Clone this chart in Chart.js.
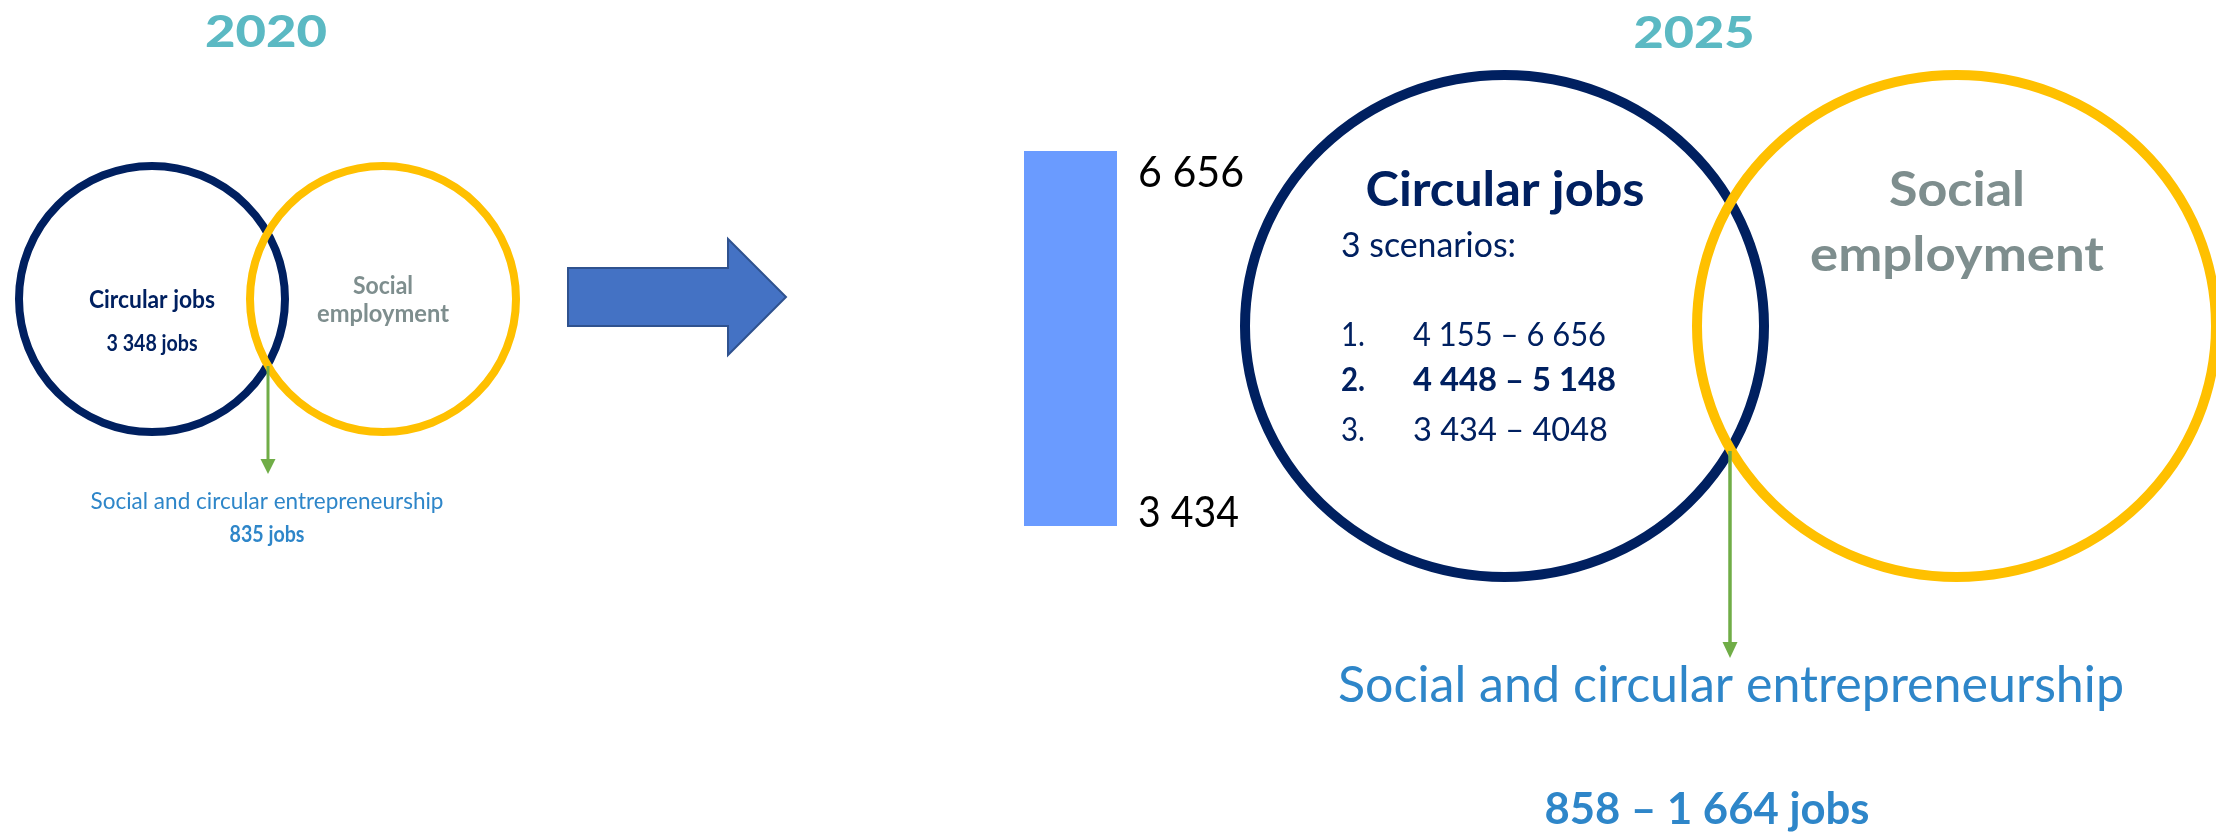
<!DOCTYPE html>
<html>
<head>
<meta charset="utf-8">
<style>
  html, body { margin: 0; padding: 0; background: #ffffff; }
  #wrap { position: relative; width: 2216px; height: 835px; }
</style>
<script src="https://cdn.jsdelivr.net/npm/chart.js@4.4.1/dist/chart.umd.min.js"></script>
</head>
<body>
<div id="wrap"><canvas id="c"></canvas></div>
<script>
// ---- data ----
const years = ['2020', '2025'];
const circularJobs2020 = [3348];
const entrepreneurship2020 = [835];
const rangeCategories = ['2025'];
const rangeLow = [3434];
const rangeHigh = [6656];
const scenarioNumbers = ['1.', '2.', '3.'];
const scenarioLabels = ['4 155 – 6 656', '4 448 – 5 148', '3 434 – 4048'];
const entrepreneurship2025 = [858, 1664];
const labelsText = {
  circular: 'Circular jobs',
  social: 'Social',
  employment: 'employment',
  entre: 'Social and circular entrepreneurship',
  scenarios: '3 scenarios:',
  jobs: 'jobs'
};

function fmt(n) { return String(n).replace(/\B(?=(\d{3})+(?!\d))/g, ' '); }

const NAVY = '#002060', YELLOW = '#FFC000', TEAL = '#5BB9C3', GRAY = '#7E8E8E',
      BLUE = '#2E86C9', GREEN = '#70AD47', BAR = '#6A9BFF';
const FONT = 'Lato, "Noto Sans", sans-serif';

function txt(ctx, s, x, y, size, weight, color, targetW, align) {
  ctx.save();
  ctx.font = weight + ' ' + size + 'px ' + FONT;
  ctx.fillStyle = color;
  ctx.textAlign = align || 'center';
  ctx.textBaseline = 'alphabetic';
  const w = ctx.measureText(s).width;
  const sx = targetW ? targetW / w : 1;
  ctx.translate(x, y);
  ctx.scale(sx, 1);
  ctx.fillText(s, 0, 0);
  ctx.restore();
}

function ellipse(ctx, cx, cy, rx, ry, color, lw) {
  ctx.save();
  ctx.beginPath();
  ctx.ellipse(cx, cy, rx, ry, 0, 0, Math.PI * 2);
  ctx.strokeStyle = color;
  ctx.lineWidth = lw;
  ctx.stroke();
  ctx.restore();
}

function greenArrow(ctx, x, y0, y1, lw, hw, hh) {
  ctx.save();
  ctx.strokeStyle = GREEN;
  ctx.fillStyle = GREEN;
  ctx.lineWidth = lw;
  ctx.beginPath();
  ctx.moveTo(x, y0);
  ctx.lineTo(x, y1 - hh + 1);
  ctx.stroke();
  ctx.beginPath();
  ctx.moveTo(x - hw / 2, y1 - hh);
  ctx.lineTo(x + hw / 2, y1 - hh);
  ctx.lineTo(x, y1);
  ctx.closePath();
  ctx.fill();
  ctx.restore();
}

const decor = {
  id: 'decor',
  afterDraw(chart) {
    const ctx = chart.ctx;
    const ys = chart.scales.y;
    const xs = chart.scales.x;

    // ---- 2020 ----
    txt(ctx, years[0], 266, 47, 44, '900', TEAL, 122);
    ellipse(ctx, 152, 299, 133, 133, NAVY, 8);
    ellipse(ctx, 383, 299, 133, 133, YELLOW, 8);
    txt(ctx, labelsText.circular, 152, 308, 24, 'bold', NAVY, 126);
    txt(ctx, fmt(circularJobs2020[0]) + ' ' + labelsText.jobs, 152, 351, 22, 'bold', NAVY, 91);
    txt(ctx, labelsText.social, 383, 294, 24, 'bold', GRAY, 60);
    txt(ctx, labelsText.employment, 383, 322, 24, 'bold', GRAY, 132);
    greenArrow(ctx, 268, 366, 474, 3, 15, 15);
    txt(ctx, labelsText.entre, 267, 509, 23, 'normal', BLUE, 353);
    txt(ctx, fmt(entrepreneurship2020[0]) + ' ' + labelsText.jobs, 267, 542, 22, 'bold', BLUE, 75);

    // ---- block arrow ----
    ctx.save();
    ctx.beginPath();
    ctx.moveTo(568, 268); ctx.lineTo(728, 268); ctx.lineTo(728, 239);
    ctx.lineTo(786, 297); ctx.lineTo(728, 355); ctx.lineTo(728, 326);
    ctx.lineTo(568, 326); ctx.closePath();
    ctx.fillStyle = '#4472C4';
    ctx.fill();
    ctx.strokeStyle = '#2F528F';
    ctx.lineWidth = 2;
    ctx.stroke();
    ctx.restore();

    // ---- range labels next to bar ----
    const barRight = xs.right;
    txt(ctx, fmt(rangeHigh[0]), barRight + 21, ys.getPixelForValue(rangeHigh[0]) + 36, 42, 'normal', '#000000', 106, 'left');
    txt(ctx, fmt(rangeLow[0]), barRight + 21, ys.getPixelForValue(rangeLow[0]) + 1, 42, 'normal', '#000000', 101, 'left');

    // ---- 2025 ----
    txt(ctx, years[1], 1694, 48, 44, '900', TEAL, 121);
    ellipse(ctx, 1504.5, 326, 259.5, 251, NAVY, 10);
    ellipse(ctx, 1956.5, 326, 259.5, 251, YELLOW, 10);
    txt(ctx, labelsText.circular, 1505, 206, 47, 'bold', NAVY, 279);
    txt(ctx, labelsText.scenarios, 1341, 257, 34, 'normal', NAVY, 175, 'left');
    const base = [346, 391, 441];
    const widths = [193, 203, 195];
    for (let i = 0; i < scenarioLabels.length; i++) {
      const wgt = i === 1 ? 'bold' : 'normal';
      txt(ctx, scenarioNumbers[i], 1341, base[i], 33, wgt, NAVY, 24, 'left');
      txt(ctx, scenarioLabels[i], 1413, base[i], 33, wgt, NAVY, widths[i], 'left');
    }
    txt(ctx, labelsText.social, 1957, 206, 47, 'bold', GRAY, 136);
    txt(ctx, labelsText.employment, 1957, 271, 47, 'bold', GRAY, 294);
    greenArrow(ctx, 1730, 451, 658, 3.5, 15, 16);
    txt(ctx, labelsText.entre, 1731, 702, 50, 'normal', BLUE, 786);
    txt(ctx, fmt(entrepreneurship2025[0]) + ' – ' + fmt(entrepreneurship2025[1]) + ' ' + labelsText.jobs,
        1707, 824, 43, 'bold', BLUE, 325);
  }
};

const W = 2216, H = 835;
const barLeft = 1024, barRightPx = 1117, barTopPx = 151, barBottomPx = 526;

new Chart(document.getElementById('c'), {
  type: 'bar',
  data: {
    labels: rangeCategories,
    datasets: [{
      data: rangeCategories.map((c, i) => [rangeLow[i], rangeHigh[i]]),
      backgroundColor: BAR,
      borderWidth: 0,
      borderSkipped: false,
      barPercentage: 1,
      categoryPercentage: 1
    }]
  },
  options: {
    responsive: true,
    maintainAspectRatio: false,
    animation: false,
    devicePixelRatio: 1,
    layout: { padding: { left: barLeft, right: W - barRightPx, top: barTopPx, bottom: H - barBottomPx } },
    plugins: { legend: { display: false }, tooltip: { enabled: false }, title: { display: false } },
    scales: {
      x: { display: false, offset: true },
      y: { display: false, min: Math.min(...rangeLow), max: Math.max(...rangeHigh) }
    }
  },
  plugins: [decor]
});
</script>
</body>
</html>
